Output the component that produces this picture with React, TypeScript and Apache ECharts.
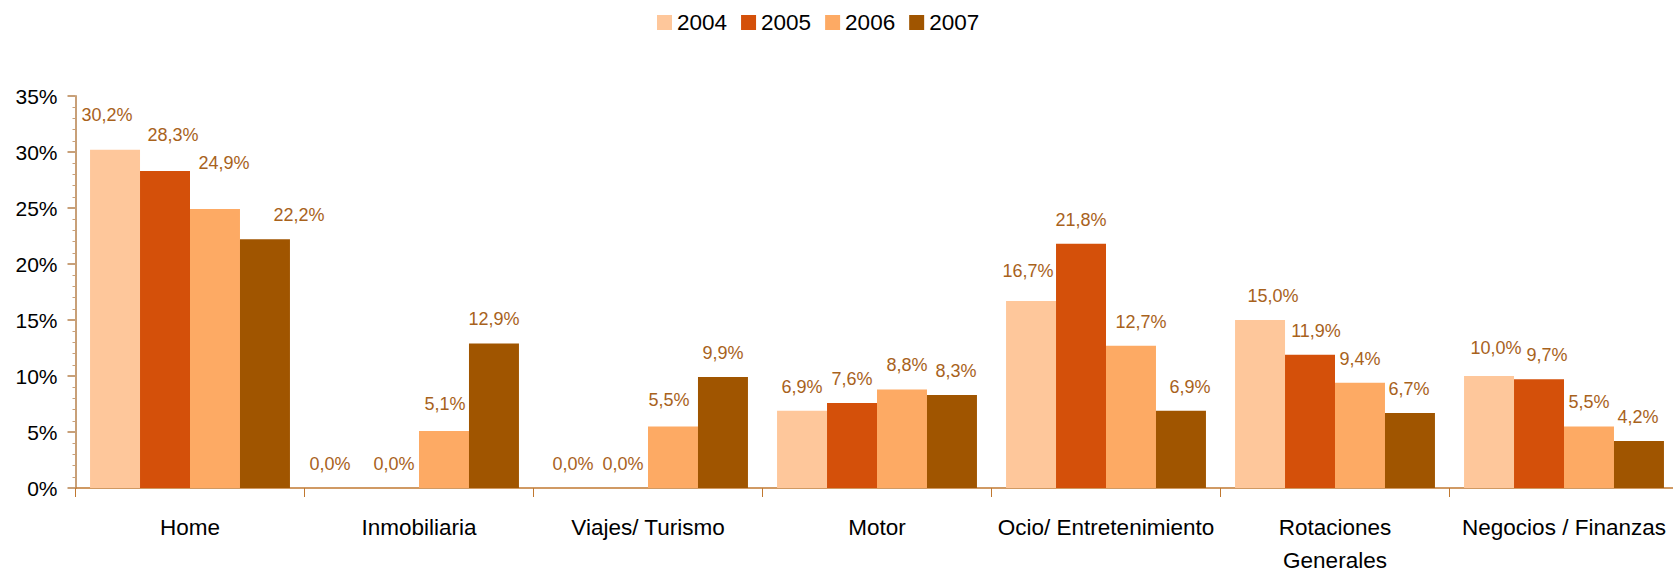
import React, { useEffect, useRef } from "react";
import * as echarts from "echarts";

const categories = [
  "Home",
  "Inmobiliaria",
  "Viajes/ Turismo",
  "Motor",
  "Ocio/ Entretenimiento",
  "Rotaciones\nGenerales",
  "Negocios / Finanzas",
];
const seriesNames = ["2004", "2005", "2006", "2007"];
const values2004 = [30.2, 0.0, 0.0, 6.9, 16.7, 15.0, 10.0];
const values2005 = [28.3, 0.0, 0.0, 7.6, 21.8, 11.9, 9.7];
const values2006 = [24.9, 5.1, 5.5, 8.8, 12.7, 9.4, 5.5];
const values2007 = [22.2, 12.9, 9.9, 8.3, 6.9, 6.7, 4.2];
const yTicks = [0, 5, 10, 15, 20, 25, 30, 35];

// label nudges (dx, dy) per point, mimicking the original placement
const offsets2004 = [[-8, -11], [-14, 0], [0, 0], [0, 0], [-3, -6], [13, 0], [7, -4]];
const offsets2005 = [[8, -12], [0, 0], [0, 0], [0, 0], [0, 0], [6, 0], [8, 0]];
const offsets2006 = [[9, -22], [1, -3], [-4, -2], [5, 0], [10, 0], [0, 0], [0, 0]];
const offsets2007 = [[34, 0], [0, -1], [0, 0], [4, 0], [9, 0], [-1, 0], [-1, 0]];

const colors = ["#FEC79B", "#D4500A", "#FDAA64", "#A05500"];
const REG = "'Liberation Sans', Arial, sans-serif";

export default function App() {
  const ref = useRef<HTMLDivElement>(null);
  useEffect(() => {
    if (!ref.current) return;
    const chart = echarts.init(ref.current, null, { renderer: "svg" });
    const all = [values2004, values2005, values2006, values2007];
    const offs = [offsets2004, offsets2005, offsets2006, offsets2007];
    const fmt = (v: number) => v.toFixed(1).replace(".", ",") + "%";
    chart.setOption({
      animation: false,
      color: colors,
      legend: {
        data: seriesNames,
        left: 652,
        top: 6,
        itemWidth: 15,
        itemHeight: 15,
        itemGap: 14,
        icon: "rect",
        textStyle: { fontFamily: REG, fontSize: 22.5, color: "#000" },
      },
      grid: { left: 75.5, width: 1603, top: 96, height: 392, outerBoundsMode: "none", containLabel: false },
      xAxis: {
        type: "category",
        data: categories,
        axisLine: { show: true, lineStyle: { color: "#C07830", width: 1.5 } },
        axisTick: { show: true, length: 9, lineStyle: { color: "#C07830", width: 1 } },
        axisLabel: {
          interval: 0,
          margin: 23,
          fontFamily: REG,
          fontSize: 22.5,
          lineHeight: 33,
          color: "#000",
        },
      },
      yAxis: {
        type: "value",
        min: yTicks[0],
        max: yTicks[yTicks.length - 1],
        interval: 5,
        axisLine: { show: true, lineStyle: { color: "#C8A078", width: 2 } },
        axisTick: { show: true, length: 8, lineStyle: { color: "#C8A078", width: 2 } },
        minorTick: { show: true, splitNumber: 5, length: 3, lineStyle: { color: "#C8A078", width: 1 } },
        splitLine: { show: false },
        axisLabel: {
          margin: 18,
          fontFamily: REG,
          fontSize: 21,
          color: "#000",
          formatter: (v: number) => v + "%",
        },
      },
      series: seriesNames.map((name, si) => ({
        name,
        type: "bar",
        barGap: "0%",
        barCategoryGap: "12.7%",
        data: all[si].map((v, i) => ({
          value: v,
          label: { offset: offs[si][i] },
        })),
        label: {
          show: true,
          position: "top",
          distance: 15,
          fontFamily: REG,
          fontSize: 18,
          lineHeight: 18,
          color: "#A8621C",
          formatter: (p: any) => fmt(p.value),
        },
      })),
    });
    return () => chart.dispose();
  }, []);
  return (
    <div
      ref={ref}
      style={{ position: "absolute", left: 0, top: 0, width: 1673, height: 574, background: "#fff" }}
    />
  );
}
